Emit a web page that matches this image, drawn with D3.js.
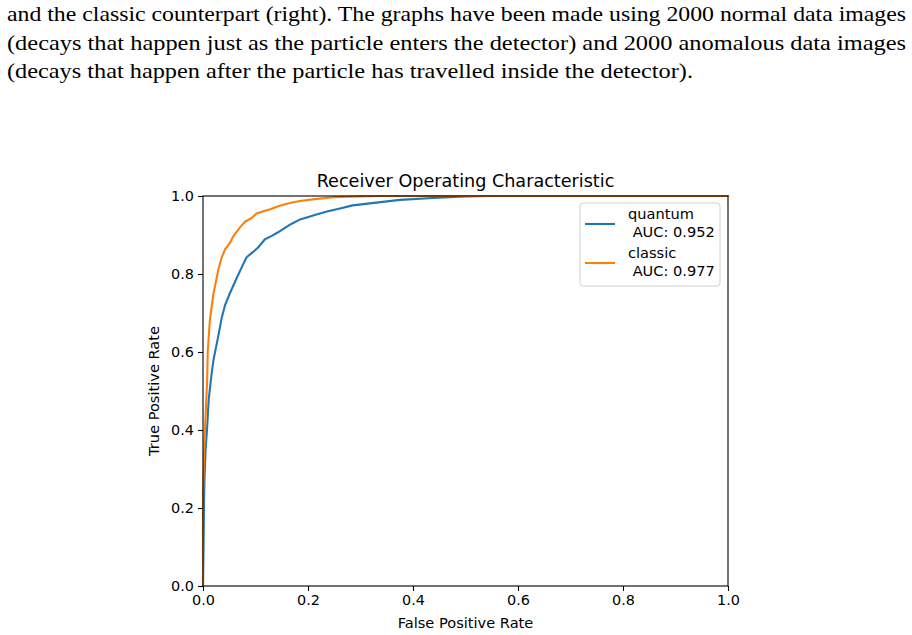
<!DOCTYPE html>
<html>
<head>
  <meta charset="utf-8">
  <script src="https://d3js.org/d3.v7.min.js"></script>
  <style>
    body { margin: 0; background: #fff; }
    svg { display: block; }
    .para { font-family: "Liberation Serif", "DejaVu Serif", serif; font-size: 21px; fill: #000; }
    .chart-text { font-family: "DejaVu Sans", sans-serif; fill: #000; }
    .tick text { font-family: "DejaVu Sans", sans-serif; font-size: 14.4px; fill: #000; }
  </style>
</head>
<body>
  <svg id="fig" width="912" height="635"></svg>
  <script>
    // caption lines above the figure
    const captionLines = [
      "and the classic counterpart (right). The graphs have been made using 2000 normal data images",
      "(decays that happen just as the particle enters the detector) and 2000 anomalous data images",
      "(decays that happen after the particle has travelled inside the detector)."
    ];

    // ROC curves
    const quantumFpr = [0, 0.001, 0.002, 0.003, 0.005, 0.008, 0.011, 0.016, 0.02, 0.029, 0.036, 0.042, 0.051, 0.064, 0.073, 0.083, 0.095, 0.105, 0.118, 0.13, 0.143, 0.156, 0.169, 0.185, 0.213, 0.236, 0.261, 0.285, 0.33, 0.375, 0.438, 0.5, 0.55, 1.0];
    const quantumTpr = [0, 0.1, 0.22, 0.28, 0.35, 0.41, 0.48, 0.54, 0.58, 0.64, 0.69, 0.72, 0.75, 0.789, 0.815, 0.843, 0.856, 0.868, 0.889, 0.897, 0.907, 0.918, 0.929, 0.94, 0.951, 0.96, 0.968, 0.976, 0.983, 0.99, 0.995, 0.999, 1.0, 1.0];
    const classicFpr = [0, 0, 0.0025, 0.005, 0.008, 0.009, 0.013, 0.0165, 0.02, 0.029, 0.035, 0.042, 0.051, 0.057, 0.064, 0.072, 0.08, 0.093, 0.102, 0.115, 0.128, 0.142, 0.156, 0.172, 0.188, 0.213, 0.248, 0.3, 0.34, 1.0];
    const classicTpr = [0, 0.24, 0.36, 0.44, 0.53, 0.6, 0.68, 0.716, 0.75, 0.81, 0.84, 0.863, 0.879, 0.895, 0.908, 0.922, 0.934, 0.944, 0.955, 0.961, 0.966, 0.973, 0.979, 0.984, 0.988, 0.992, 0.997, 0.999, 1.0, 1.0];

    const seriesNames = ["quantum", "classic"];
    const aucLabels = [" AUC: 0.952", " AUC: 0.977"];
    const colors = ["#1f77b4", "#ff7f0e"];
    const tickValues = [0, 0.2, 0.4, 0.6, 0.8, 1.0];

    const svg = d3.select("#fig");

    // caption (justified lines)
    const lineWidths = [899, 899, 686];
    svg.selectAll("text.para")
      .data(captionLines)
      .enter()
      .append("text")
      .attr("class", "para")
      .attr("x", 7)
      .attr("y", (d, i) => 21 + i * 28.5)
      .attr("textLength", (d, i) => lineWidths[i])
      .attr("lengthAdjust", "spacingAndGlyphs")
      .text(d => d);

    // axes area
    const plotLeft = 203, plotRight = 728, plotTop = 196, plotBottom = 586;
    const x = d3.scaleLinear().domain([0, 1]).range([plotLeft, plotRight]);
    const y = d3.scaleLinear().domain([0, 1]).range([plotBottom, plotTop]);

    const series = [
      { fpr: quantumFpr, tpr: quantumTpr },
      { fpr: classicFpr, tpr: classicTpr }
    ];

    const line = d3.line().x(d => x(d[0])).y(d => y(d[1]));

    svg.selectAll("path.roc")
      .data(series)
      .enter()
      .append("path")
      .attr("class", "roc")
      .attr("fill", "none")
      .attr("stroke", (d, i) => colors[i])
      .attr("stroke-width", 2.1)
      .attr("stroke-linejoin", "round")
      .attr("stroke-linecap", "square")
      .attr("d", d => line(d.fpr.map((v, i) => [v, d.tpr[i]])));

    // spines
    svg.append("rect")
      .attr("x", plotLeft).attr("y", plotTop)
      .attr("width", plotRight - plotLeft).attr("height", plotBottom - plotTop)
      .attr("fill", "none")
      .attr("stroke", "#000")
      .attr("stroke-width", 1.1);

    const xAxis = svg.append("g")
      .attr("transform", `translate(0,${plotBottom})`)
      .call(d3.axisBottom(x).tickValues(tickValues).tickFormat(d3.format(".1f")).tickSize(5).tickPadding(4));
    const yAxis = svg.append("g")
      .attr("transform", `translate(${plotLeft},0)`)
      .call(d3.axisLeft(y).tickValues(tickValues).tickFormat(d3.format(".1f")).tickSize(5).tickPadding(4));
    [xAxis, yAxis].forEach(g => {
      g.select(".domain").remove();
      g.selectAll(".tick line").attr("stroke", "#000").attr("stroke-width", 1.1);
    });

    // titles
    svg.append("text")
      .attr("class", "chart-text")
      .attr("x", (plotLeft + plotRight) / 2)
      .attr("y", 187)
      .attr("text-anchor", "middle")
      .style("font-size", "17.6px")
      .text("Receiver Operating Characteristic");

    svg.append("text")
      .attr("class", "chart-text")
      .attr("x", (plotLeft + plotRight) / 2)
      .attr("y", 628)
      .attr("text-anchor", "middle")
      .style("font-size", "14.6px")
      .text("False Positive Rate");

    svg.append("text")
      .attr("class", "chart-text")
      .attr("transform", `translate(159,${(plotTop + plotBottom) / 2}) rotate(-90)`)
      .attr("text-anchor", "middle")
      .style("font-size", "14.6px")
      .text("True Positive Rate");

    // legend
    const legend = svg.append("g");
    legend.append("rect")
      .attr("x", 580).attr("y", 203)
      .attr("width", 140).attr("height", 83)
      .attr("rx", 3)
      .attr("fill", "#fff")
      .attr("fill-opacity", 0.8)
      .attr("stroke", "#d0d0d0")
      .attr("stroke-width", 1);

    const items = legend.selectAll("g.item")
      .data(seriesNames)
      .enter()
      .append("g")
      .attr("transform", (d, i) => `translate(0,${i * 39})`);

    items.append("line")
      .attr("x1", 585).attr("x2", 615)
      .attr("y1", 224).attr("y2", 224)
      .attr("stroke", (d, i) => colors[i])
      .attr("stroke-width", 2.1);

    items.append("text")
      .attr("class", "chart-text")
      .attr("x", 628).attr("y", 219)
      .style("font-size", "14.6px")
      .text(d => d);

    items.append("text")
      .attr("class", "chart-text")
      .attr("x", 628).attr("y", 237)
      .attr("xml:space", "preserve")
      .style("font-size", "14.6px")
      .style("white-space", "pre")
      .text((d, i) => aucLabels[i]);
  </script>
</body>
</html>
